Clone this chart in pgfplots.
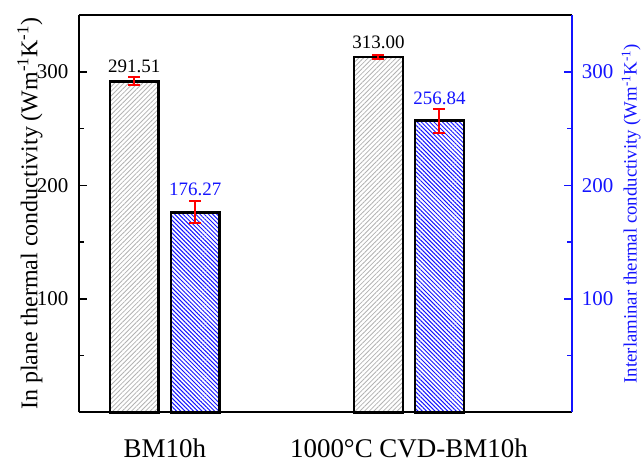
\documentclass[border=0pt]{standalone}
\usepackage{fontspec}
\setmainfont{Liberation Serif}
\usepackage{pgfplots}
\pgfplotsset{compat=1.18}
\usetikzlibrary{patterns.meta}
\definecolor{myblue}{RGB}{20,20,255}
\begin{document}
\begin{tikzpicture}
\begin{axis}[
  scale only axis, width=494pt, height=398pt,
  xmin=0.648, xmax=2.669, ymin=0, ymax=350,
  axis line style={line width=2pt},
  axis y line*=left, axis x line*=bottom,
  xtick={1,2}, xticklabels={BM10h,1000\textdegree C CVD-BM10h},
  xtick style={draw=none},
  xticklabel style={font=\fontsize{27}{30}\selectfont, yshift=-15pt},
  ytick={100,200,300}, minor ytick={50,150,250},
  tick align=inside,
  major tick length=8pt, minor tick length=5pt,
  ytick style={line width=1.6pt, black},
  minor tick style={line width=1.6pt, black},
  yticklabel style={font=\fontsize{21}{24}\selectfont, xshift=-7pt},
  /pgf/number format/assume math mode=true,
  ylabel={In plane thermal conductivity (Wm\textsuperscript{-1}K\textsuperscript{-1})},
  ylabel style={font=\fontsize{24}{28}\selectfont, at={(axis description cs:0,0.5)}, anchor=center, yshift=49pt},
  ybar, bar width=0.2, bar shift=0pt,
  clip=false,
]
% gray bars
\addplot[draw=black, line width=2.6pt,
  pattern={Lines[angle=45,distance=3.3pt,line width=0.8pt]}, pattern color=gray!60,
  error bars/.cd, y dir=both, y explicit,
  error bar style={draw=red, line width=2pt},
  error mark options={draw=red, line width=2pt, mark size=6pt, rotate=90}]
  coordinates {(0.875,291.51) +- (0,3.5) (1.875,313.00) +- (0,2)};
\addplot[draw=black, line width=2.6pt,
  pattern={Lines[angle=-45,distance=3pt,line width=1pt]}, pattern color=myblue,
  error bars/.cd, y dir=both, y explicit,
  error bar style={draw=red, line width=2pt},
  error mark options={draw=red, line width=2pt, mark size=6pt, rotate=90}]
  coordinates {(1.125,176.27) +- (0,9.8) (2.125,256.84) +- (0,10.5)};
% value labels
\addplot[draw=none, fill=none, forget plot,
  nodes near coords, point meta=explicit symbolic,
  nodes near coords style={font=\fontsize{19}{22}\selectfont, black, anchor=south, yshift=5pt}]
  table[meta=lab] {
  x y lab
  0.875 291.51 291.51
  1.875 313.00 313.00
  };
\addplot[draw=none, fill=none, forget plot,
  nodes near coords, point meta=explicit symbolic,
  nodes near coords style={font=\fontsize{19}{22}\selectfont, myblue, anchor=south, yshift=13pt}]
  table[meta=lab] {
  x y lab
  1.125 176.27 176.27
  2.125 256.84 256.84
  };
\draw[line width=2pt] (rel axis cs:0,1) -- (rel axis cs:1,1);
\end{axis}
\begin{axis}[
  scale only axis, width=494pt, height=398pt,
  xmin=0.648, xmax=2.669, ymin=0, ymax=350,
  axis x line=none, axis y line*=right,
  axis line style={line width=2pt, myblue},
  ytick={100,200,300}, minor ytick={50,150,250},
  tick align=inside,
  major tick length=8pt, minor tick length=5pt,
  ytick style={line width=1.6pt, myblue},
  minor tick style={line width=1.6pt, myblue},
  yticklabel style={font=\fontsize{21}{24}\selectfont, myblue, xshift=6pt},
  /pgf/number format/assume math mode=true,
  ylabel={Interlaminar thermal conductivity (Wm\textsuperscript{-1}K\textsuperscript{-1})},
  ylabel style={font=\fontsize{18.8}{22}\selectfont, myblue, at={(axis description cs:1,0.5)}, anchor=center, yshift=-59pt},
]
\addplot[draw=none] coordinates {(1,0)};
\end{axis}
\path[use as bounding box] (-79pt,-51pt) rectangle (565pt,413pt);
\end{tikzpicture}
\end{document}
